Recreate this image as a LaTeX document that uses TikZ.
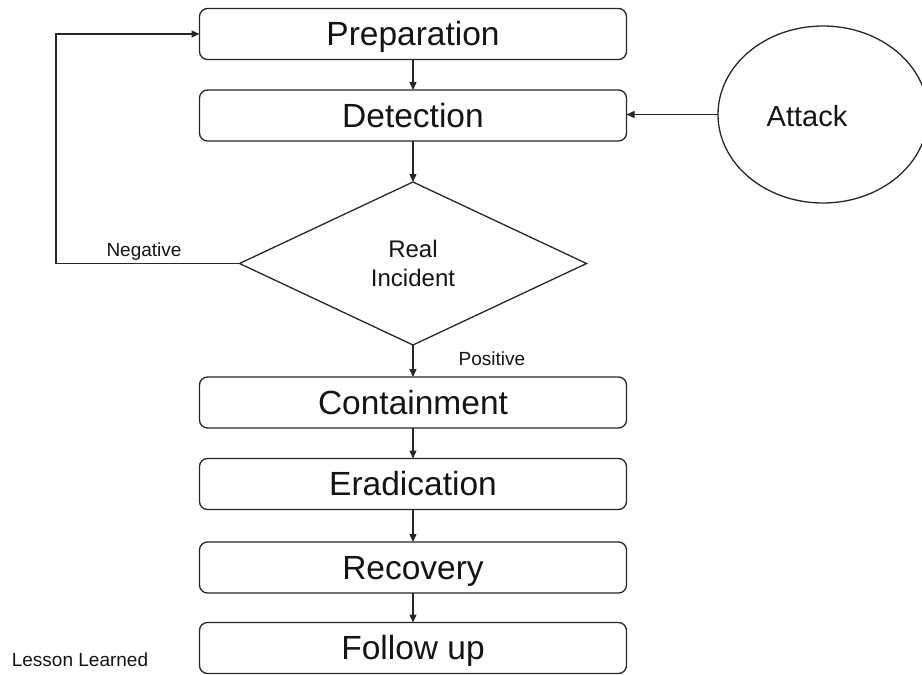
\documentclass[tikz,border=0pt]{standalone}
\usepackage{fontspec}
\setmainfont{Liberation Sans}
\usetikzlibrary{shapes.geometric,arrows.meta}
\definecolor{linecol}{HTML}{262626}
\definecolor{textcol}{HTML}{141414}
\begin{document}
\begin{tikzpicture}[x=1pt,y=-1pt,
  every node/.style={inner sep=0pt, outer sep=0pt, text=textcol},
  stagebox/.style={draw=linecol, line width=1.3pt, rounded corners=8pt,
    minimum width=427pt, minimum height=51pt,
    text height=23pt, text depth=0pt,
    font=\fontsize{33.5}{33.5}\selectfont},
  decision/.style={diamond, draw=linecol, line width=1.3pt,
    minimum width=347pt, minimum height=163pt, align=center,
    font=\fontsize{24}{28.5}\selectfont},
  source/.style={ellipse, draw=linecol, line width=1.3pt,
    minimum width=210pt, minimum height=177pt},
  biglabel/.style={text height=20.5pt, text depth=0pt,
    font=\fontsize{29}{29}\selectfont},
  smalllabel/.style={text height=13.5pt, text depth=0pt,
    font=\fontsize{19}{19}\selectfont},
  flow/.style={draw=linecol, line width=1.3pt,
    -{Triangle[length=8pt,width=7pt]}}
]
\useasboundingbox (0,0) rectangle (922,675);

% process stages
\node[stagebox] (prep) at (413,34)    {Preparation};
\node[stagebox] (det)  at (413,115.5) {Detection};
\node[decision] (real) at (413,263.5) {Real\\Incident};
\node[stagebox] (cont) at (413,402.5) {Containment};
\node[stagebox] (erad) at (413,484)   {Eradication};
\node[stagebox] (rec)  at (413,567.5) {Recovery};
\node[stagebox] (fol)  at (413,648)   {Follow up};

% external trigger
\node[source] (attack) at (823,114.5) {};
\node[biglabel] (attacklbl) at (807,116) {Attack};

% side labels
\node[smalllabel] (neg)    at (144,250) {Negative};
\node[smalllabel] (pos)    at (492,359) {Positive};
\node[smalllabel] (lesson) at (80,659.5) {Lesson Learned};

% main flow
\draw[flow] (prep) -- (det);
\draw[flow] (det) -- (real);
\draw[flow] (real) -- (cont);
\draw[flow] (cont) -- (erad);
\draw[flow] (erad) -- (rec);
\draw[flow] (rec) -- (fol);
\draw[flow] (attack.west) -- (attack.west -| det.east);

% negative outcome loops back to preparation
\coordinate (loopbot) at (56,263.5);
\coordinate (looptop) at (56,34);
\draw[flow] (real.west) -- (loopbot) -- (looptop) -- (prep.west);
\end{tikzpicture}
\end{document}
